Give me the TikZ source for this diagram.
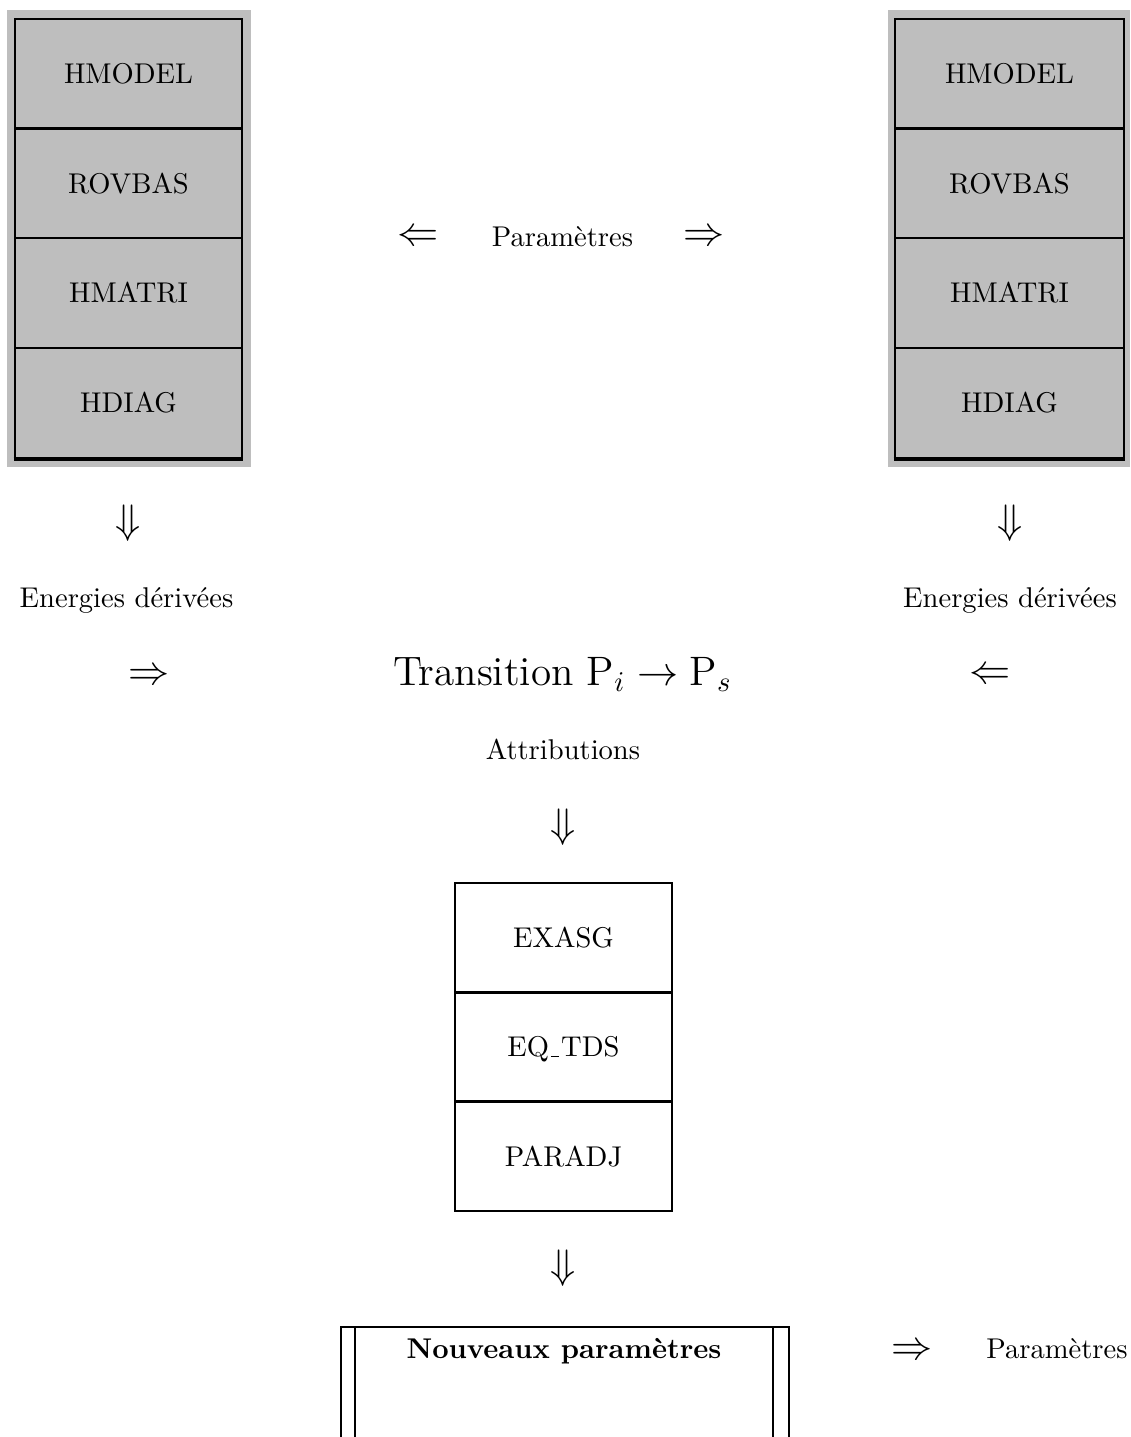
\documentclass[tikz,border=0pt]{standalone}
\usepackage{fontspec}
\definecolor{boxgray}{RGB}{190,190,190}
\newcommand{\oldus}{\leavevmode\kern.06em\vbox{\hrule width.3em}\kern.06em}
\begin{document}
\begin{tikzpicture}[x=0.35pt,y=-0.35pt,line width=0.9pt,
  cell/.style={draw,inner sep=0pt,text height=6.83pt,text depth=0pt},
  lcell/.style={cell,minimum width=79.45pt,minimum height=38.41pt},
  rcell/.style={cell,minimum width=80.15pt,minimum height=38.41pt},
  mcell/.style={cell,minimum width=75.95pt,minimum height=38.26pt},
  lbl/.style={anchor=base,inner sep=0pt},
  bigarrow/.style={font=\Large,inner sep=0pt}]
\useasboundingbox (0,0) rectangle (1130,1437);
% gray backgrounds
\fill[boxgray] (7,10) rectangle (251,467);
\fill[boxgray] (888,10) rectangle (1130,467);
% left stack
\node[lcell] (l1) at (128.5,73.75) {HMODEL};
\node[lcell] (l2) at (128.5,183.25) {ROVBAS};
\node[lcell] (l3) at (128.5,293) {HMATRI};
\node[lcell] (l4) at (128.5,403) {HDIAG};
\draw[line width=1.3pt] (l4.south west) -- (l4.south east);
% right stack
\node[rcell] (r1) at (1009.5,73.75) {HMODEL};
\node[rcell] (r2) at (1009.5,183.25) {ROVBAS};
\node[rcell] (r3) at (1009.5,293) {HMATRI};
\node[rcell] (r4) at (1009.5,403) {HDIAG};
\draw[line width=1.3pt] (r4.south west) -- (r4.south east);
% parameters row
\node[bigarrow,anchor=base] (pl) at (418,245) {$\Leftarrow$};
\node[lbl] (par1) at (562.5,246) {Paramètres};
\node[bigarrow,anchor=base] (pr) at (704,245) {$\Rightarrow$};
% energies
\node[bigarrow] (dl) at (128,523) {$\Downarrow$};
\node[bigarrow] (dr) at (1010,523) {$\Downarrow$};
\node[lbl] (enl) at (126.5,607) {Energies dérivées};
\node[lbl] (enr) at (1010,607) {Energies dérivées};
% transition row
\node[bigarrow,anchor=base] (tl) at (149,684) {$\Rightarrow$};
\node[lbl,font=\Large] (trans) at (562.5,685) {Transition $\mathrm{P}_i \rightarrow \mathrm{P}_s$};
\node[bigarrow,anchor=base] (tr) at (990,683) {$\Leftarrow$};
% attributions
\node[lbl] (attr) at (563,759) {Attributions};
\node[bigarrow] (dc) at (563,827) {$\Downarrow$};
% middle stack
\node[mcell] (m1) at (563.5,937.7) {EXASG};
\node[mcell] (m2) at (563.5,1047) {EQ\oldus TDS};
\node[mcell] (m3) at (563.5,1156.3) {PARADJ};
\node[bigarrow] (db) at (563.5,1268) {$\Downarrow$};
% new parameters box
\node[lbl,font=\bfseries] (nouv) at (564,1358) {Nouveaux paramètres};
\draw (341,1437) |- (789,1327) -- (789,1437);
\draw (355,1327) -- (355,1437);
\draw (773,1327) -- (773,1437);
\node[bigarrow,anchor=base] (br) at (912,1359) {$\Rightarrow$};
\node[lbl] (par2) at (1057,1358) {Paramètres};
\end{tikzpicture}
\end{document}
